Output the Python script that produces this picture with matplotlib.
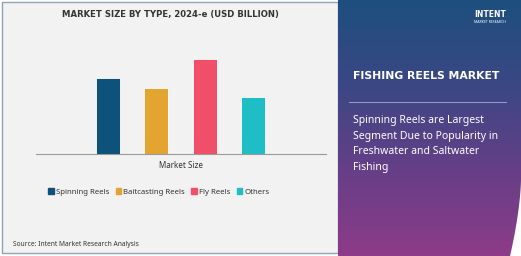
import numpy as np
import matplotlib.pyplot as plt
from matplotlib.patches import Rectangle, Polygon
from matplotlib.colors import LinearSegmentedColormap

categories = ["Spinning Reels", "Baitcasting Reels", "Fly Reels", "Others"]
values = [4.0, 3.5, 5.0, 3.0]
colors = ["#0d527a", "#e3a52f", "#f04e69", "#1fbec6"]

plt.rcParams['font.family'] = ['Noto Sans', 'DejaVu Sans']
bold_font = ['DejaVu Sans']

fig = plt.figure(figsize=(5.21, 2.56), dpi=100)
fig.patch.set_facecolor("white")

# left panel background + border
fig.patches.append(Rectangle((2 / 521, 3 / 256), 336 / 521, 251 / 256, transform=fig.transFigure,
                             facecolor="#f2f2f2", edgecolor="#8fa3b8", lw=1.0, zorder=-5))

# right panel gradient
rax = fig.add_axes([338 / 521, 0, 183 / 521, 1])
cmap = LinearSegmentedColormap.from_list("g", ["#1d4f7e", "#3b4784", "#663f87", "#8e3b89"])
grad = np.linspace(0, 1, 256).reshape(-1, 1)
rax.imshow(grad, aspect="auto", cmap=cmap, extent=[0, 1, 0, 1], origin="upper")
rax.set_xlim(0, 1)
rax.set_ylim(0, 1)
rax.axis("off")
# curved white edge bottom right
t = np.linspace(0, 1, 40)
cx = 1.0 - 0.06 * t ** 1.6
cy = 0.30 * (1 - t)
pts = list(zip(cx, cy)) + [(1.0, 0.0)]
rax.add_patch(Polygon(pts, closed=True, facecolor="white", edgecolor="none"))
rax.text(0.08, 0.705, "FISHING REELS MARKET", color="white", fontsize=7.8, family=bold_font,
         fontweight="bold", va="center", ha="left")
rax.plot([0.06, 0.92], [0.6, 0.6], color="#8a9cc4", lw=0.8)
rax.text(0.08, 0.55, "Spinning Reels are Largest\nSegment Due to Popularity in\nFreshwater and Saltwater\nFishing",
         color="white", fontsize=7.5, va="top", ha="left", linespacing=1.58)
rax.text(0.83, 0.945, "INTENT", color="white", fontsize=5.5, family=bold_font, fontweight="bold",
         ha="center", va="center")
rax.text(0.83, 0.915, "MARKET RESEARCH", color="white", fontsize=2.5, ha="center", va="center")

# bar chart
ax = fig.add_axes([36 / 521, 1 - 154 / 256, 290 / 521, 114 / 256], zorder=2)
x = np.arange(len(categories))
ax.bar(x, values, width=0.5, color=colors, edgecolor="white", linewidth=0.6, zorder=2)
ax.set_xlim(-1.49, 4.51)
ax.set_ylim(0, 6)
ax.patch.set_visible(False)
for s in ["top", "right", "left"]:
    ax.spines[s].set_visible(False)
ax.spines["bottom"].set_color("#999999")
ax.spines["bottom"].set_linewidth(0.8)
ax.set_yticks([])
ax.set_xticks([])

fig.text(170 / 521, 1 - 15 / 256, "MARKET SIZE BY TYPE, 2024-e (USD BILLION)", ha="center", va="center",
         fontsize=6.1, family=bold_font, fontweight="bold", color="#333333")
fig.text(181 / 521, 1 - 166 / 256, "Market Size", ha="center", va="center", fontsize=5.8, color="#333333")

handles = [Rectangle((0, 0), 1, 1, color=c) for c in colors]
fig.legend(handles, categories, loc="center", bbox_to_anchor=(159 / 521, 1 - 192 / 256), ncol=4,
           frameon=False, fontsize=5.6, handlelength=0.7, handleheight=0.7, handletextpad=0.3,
           columnspacing=0.8, labelcolor="#333333")

fig.text(13 / 521, 1 - 245 / 256, "Source: Intent Market Research Analysis", ha="left", va="center",
         fontsize=4.8, color="#333333")

fig.savefig("out.png", dpi=100)
